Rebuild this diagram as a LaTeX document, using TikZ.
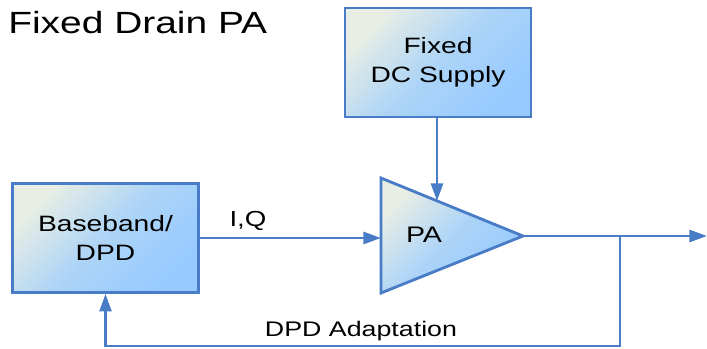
\documentclass[tikz,border=0pt]{standalone}
\usepackage{fontspec}
\setmainfont[FakeStretch=1.27]{Liberation Sans}
\usetikzlibrary{arrows.meta}

\definecolor{wireblue}{RGB}{72,124,198}
\definecolor{fillpale}{RGB}{232,238,228}
\definecolor{fillblue}{RGB}{150,202,255}

\tikzset{
  blockbox/.style={draw=wireblue, line width=2pt, inner sep=0pt,
    top color=fillpale, bottom color=fillblue, middle color=fillblue!72!fillpale, shading angle=45,
    align=center, font=\fontsize{15.8}{20.8}\selectfont},
  wire/.style={draw=wireblue, line width=1.9pt},
  tip/.style={-{Triangle[length=12.5pt,width=8.5pt]}},
  lbl/.style={font=\fontsize{15}{18}\selectfont}
}

\begin{document}
\begin{tikzpicture}[x=0.025cm, y=-0.025cm]  % 坐标按像素给出

    \useasboundingbox (0,0) rectangle (707,348);

    % 标题
    \node[anchor=base west, inner sep=0pt, font=\fontsize{21.8}{26}\selectfont] (title) at (8,34) {Fixed Drain PA};

    % 两个方框
    \node[blockbox, minimum width=186*0.025cm, minimum height=109*0.025cm] (supply) at (438,62.5) {Fixed\\DC Supply};
    \node[blockbox, minimum width=186*0.025cm, minimum height=109*0.025cm] (bb) at (105.5,238) {Baseband/\\DPD};

    % 放大器三角形
    \coordinate (paTop) at (381,178);
    \coordinate (paBot) at (381,293);
    \coordinate (paOut) at (523,236);
    \coordinate (paIn) at (381,238);
    \path[draw=wireblue, line width=2pt, line join=miter, top color=fillpale, bottom color=fillblue, middle color=fillblue!72!fillpale, shading angle=45]
        (paTop) -- (paOut) -- (paBot) -- cycle;
    \node[lbl, font=\fontsize{16}{18}\selectfont] (pa) at (424,235) {PA};

    % 连线
    \coordinate (paHit) at (437,201);
    \draw[wire, tip] (supply.south -| paHit) -- (paHit);
    \draw[wire, tip] (bb.east |- paIn) -- (paIn);
    \node[lbl, font=\fontsize{15.5}{18}\selectfont] (iq) at (248,221) {I,Q};

    % 输出和反馈
    \coordinate (outEnd) at (707,236);
    \coordinate (tap) at (620,236);
    \coordinate (tapLow) at (620,346);
    \draw[wire, tip] (paOut) -- (outEnd);
    \draw[wire, tip, line join=miter] (tap) -- (tapLow) -| (bb.south);
    \node[lbl] (adapt) at (361,331) {DPD Adaptation};

\end{tikzpicture}
\end{document}
